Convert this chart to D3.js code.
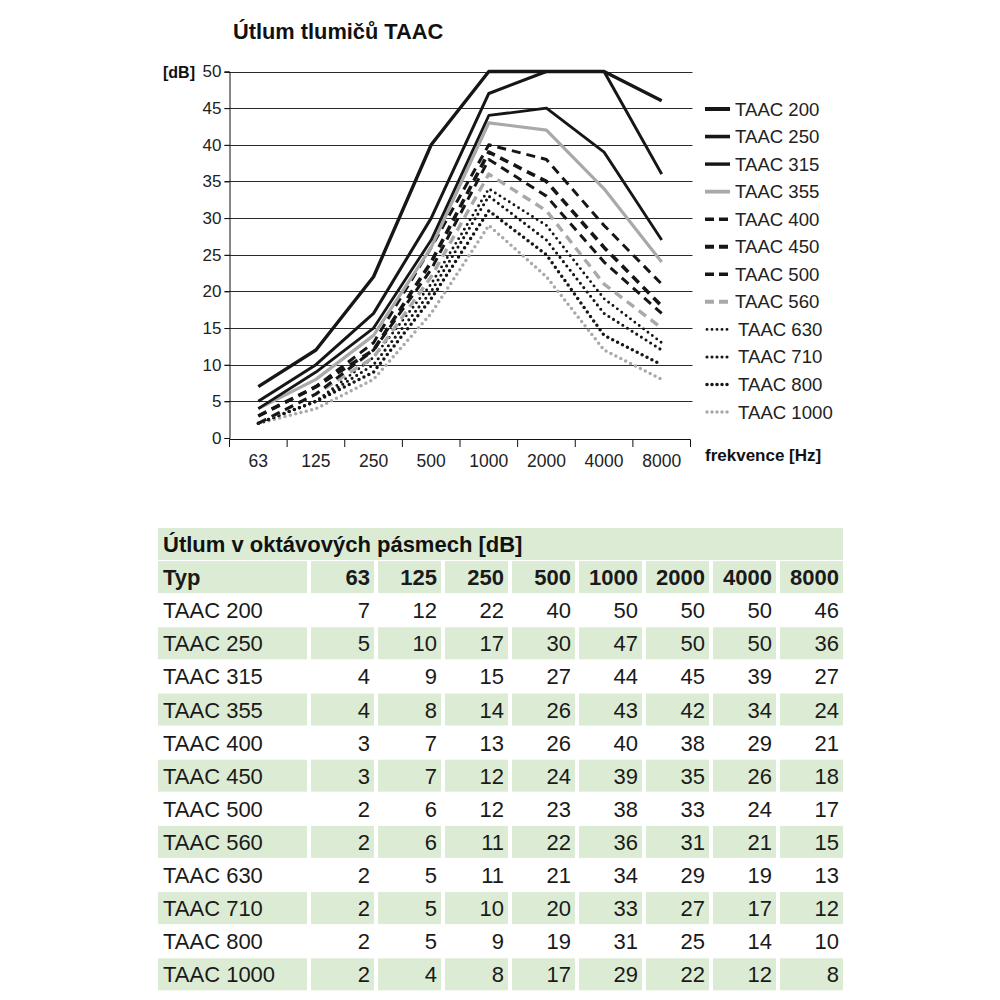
<!DOCTYPE html>
<html><head><meta charset="utf-8">
<script src="https://cdn.jsdelivr.net/npm/d3@7"></script>
<style>
html,body{margin:0;padding:0;background:#fff;}
svg{display:block;font-family:"Liberation Sans",Arial,Helvetica,sans-serif;}
</style></head>
<body>
<svg id="c" width="1000" height="1000"></svg>
<script>
const title = "Útlum tlumičů TAAC";
const yLabel = "[dB]";
const xLabel = "frekvence [Hz]";
const tableTitle = "Útlum v oktávových pásmech [dB]";
const typHeader = "Typ";
const categories = ["63","125","250","500","1000","2000","4000","8000"];
const yTicks = [0,5,10,15,20,25,30,35,40,45,50];
const seriesNames = ["TAAC 200","TAAC 250","TAAC 315","TAAC 355","TAAC 400","TAAC 450","TAAC 500","TAAC 560","TAAC 630","TAAC 710","TAAC 800","TAAC 1000"];
const taac200  = [7,12,22,40,50,50,50,46];
const taac250  = [5,10,17,30,47,50,50,36];
const taac315  = [4,9,15,27,44,45,39,27];
const taac355  = [4,8,14,26,43,42,34,24];
const taac400  = [3,7,13,26,40,38,29,21];
const taac450  = [3,7,12,24,39,35,26,18];
const taac500  = [2,6,12,23,38,33,24,17];
const taac560  = [2,6,11,22,36,31,21,15];
const taac630  = [2,5,11,21,34,29,19,13];
const taac710  = [2,5,10,20,33,27,17,12];
const taac800  = [2,5,9,19,31,25,14,10];
const taac1000 = [2,4,8,17,29,22,12,8];
const seriesValues = [taac200,taac250,taac315,taac355,taac400,taac450,taac500,taac560,taac630,taac710,taac800,taac1000];

// styles (separate from data)
const BLK = "#161616", GRY = "#a9a9a9";
const styles = [
  {c:BLK,w:3.4,d:null,cap:"butt"},
  {c:BLK,w:3,d:null,cap:"butt"},
  {c:BLK,w:2.8,d:null,cap:"butt"},
  {c:GRY,w:3.2,d:null,cap:"butt"},
  {c:BLK,w:3,d:"9,6",cap:"butt"},
  {c:BLK,w:3.6,d:"9,6",cap:"butt"},
  {c:BLK,w:3,d:"9,6",cap:"butt"},
  {c:GRY,w:3.4,d:"9,6",cap:"butt"},
  {c:BLK,w:2.9,d:"0,5.5",cap:"round"},
  {c:BLK,w:3.1,d:"0,5.5",cap:"round"},
  {c:BLK,w:3.5,d:"0,5.5",cap:"round"},
  {c:GRY,w:3.5,d:"0,5.5",cap:"round"}
];

const svg = d3.select("#c");
const pLeft = 229.5, pRight = 690.5, pTop = 71.5, pBottom = 438;
const x = d3.scaleBand().domain(categories).range([pLeft,pRight]);
const y = d3.scaleLinear().domain([0,50]).range([pBottom, pTop]);

// title
svg.append("text").attr("x",233).attr("y",39).attr("font-size",21.8).attr("font-weight","bold")
  .attr("fill","#111").text(title);

// grid lines
svg.append("g").selectAll("line").data(yTicks.filter(v=>v>0)).join("line")
  .attr("x1",pLeft-5).attr("x2",pRight+2)
  .attr("y1",d=>Math.round(y(d))+0.5).attr("y2",d=>Math.round(y(d))+0.5)
  .attr("stroke","#2a2a2a").attr("stroke-width",1);

// y axis
const yAxis = d3.axisLeft(y).tickValues(yTicks).tickSize(5).tickPadding(3);
const gy = svg.append("g").attr("transform",`translate(${pLeft},0)`).call(yAxis);
gy.select(".domain").attr("stroke","#111");
gy.selectAll(".tick line").attr("stroke","#111");
gy.selectAll("text").attr("font-size",17).attr("fill","#222").attr("font-family","Liberation Sans, Arial, sans-serif");
svg.append("text").attr("x",163).attr("y",y(50)+6).attr("font-size",16).attr("font-weight","bold").attr("fill","#111").text(yLabel);

// x axis
const xAxis = d3.axisBottom(x).tickSize(0).tickPadding(10);
const gx = svg.append("g").attr("transform",`translate(0,${pBottom+1.5})`).call(xAxis);
gx.select(".domain").remove();
gx.selectAll("text").attr("font-size",17.5).attr("fill","#222").attr("font-family","Liberation Sans, Arial, sans-serif").attr("dy","1em");
svg.append("line").attr("x1",pLeft).attr("x2",pRight).attr("y1",pBottom+1.5).attr("y2",pBottom+1.5).attr("stroke","#111");
const edges = categories.map(c=>x(c)).concat([pRight]);
svg.append("g").selectAll("line").data(edges).join("line")
  .attr("x1",d=>d).attr("x2",d=>d).attr("y1",pBottom+1.5).attr("y2",pBottom+9)
  .attr("stroke","#111");
svg.append("text").attr("x",705).attr("y",461).attr("font-size",17).attr("font-weight","bold").attr("fill","#111").text(xLabel);

// lines
const line = d3.line().x((d,i)=>x(categories[i])+x.bandwidth()/2).y(d=>y(d));
const order = d3.range(seriesValues.length).reverse();
svg.append("g").selectAll("path").data(order).join("path")
  .attr("d",i=>line(seriesValues[i]))
  .attr("fill","none")
  .attr("stroke",i=>styles[i].c)
  .attr("stroke-width",i=>styles[i].w)
  .attr("stroke-dasharray",i=>styles[i].d)
  .attr("stroke-linecap",i=>styles[i].cap)
  .attr("stroke-linejoin","round");

// legend
const lg = svg.append("g");
seriesNames.forEach((n,i)=>{
  const ly = 109 + i*27.55;
  const s = styles[i];
  const dotted = s.cap==="round";
  lg.append("line").attr("x1",dotted?707:705).attr("x2",dotted?731:730).attr("y1",ly).attr("y2",ly)
    .attr("stroke",s.c).attr("stroke-width",dotted? s.w : s.w+0.6)
    .attr("stroke-dasharray",s.d? (dotted?"0,5":"9,5"):null)
    .attr("stroke-linecap",s.cap);
  lg.append("text").attr("x",dotted?738:735).attr("y",ly+6.5).attr("font-size",18.6).attr("fill","#222").text(n);
});

// table
const tL = 158, tR = 843, col0W = 149, numX0 = 311, colPitch = 67, colW = 63;
const rowTop0 = 528, rowPitch = 33.1, rowH = 32;
const green = "#dcecd4";
const tg = svg.append("g");
tg.append("rect").attr("x",tL).attr("y",rowTop0).attr("width",tR-tL).attr("height",rowH).attr("fill",green);
tg.append("text").attr("x",tL+5).attr("y",rowTop0+rowH/2+8).attr("font-size",22).attr("font-weight","bold").attr("fill","#111").text(tableTitle);
const colStarts = categories.map((c,i)=>numX0+i*colPitch);
function drawRow(rowIdx, label, vals, bold, fill){
  const ty = rowTop0 + rowIdx*rowPitch;
  if(fill){
    tg.append("rect").attr("x",tL).attr("y",ty).attr("width",col0W).attr("height",rowH).attr("fill",green);
    colStarts.forEach(cx=>tg.append("rect").attr("x",cx).attr("y",ty).attr("width",colW).attr("height",rowH).attr("fill",green));
  }
  tg.append("text").attr("x",tL+5).attr("y",ty+rowH/2+8).attr("font-size",22).attr("font-weight",bold?"bold":"normal").attr("fill","#1a1a1a").text(label);
  vals.forEach((v,i)=>{
    tg.append("text").attr("x",colStarts[i]+colW-4).attr("y",ty+rowH/2+8).attr("text-anchor","end")
      .attr("font-size",22).attr("font-weight",bold?"bold":"normal").attr("fill","#1a1a1a").text(v);
  });
}
drawRow(1, typHeader, categories, true, true);
seriesNames.forEach((n,i)=>drawRow(2+i, n, seriesValues[i], false, i%2===1));
</script>
</body></html>
